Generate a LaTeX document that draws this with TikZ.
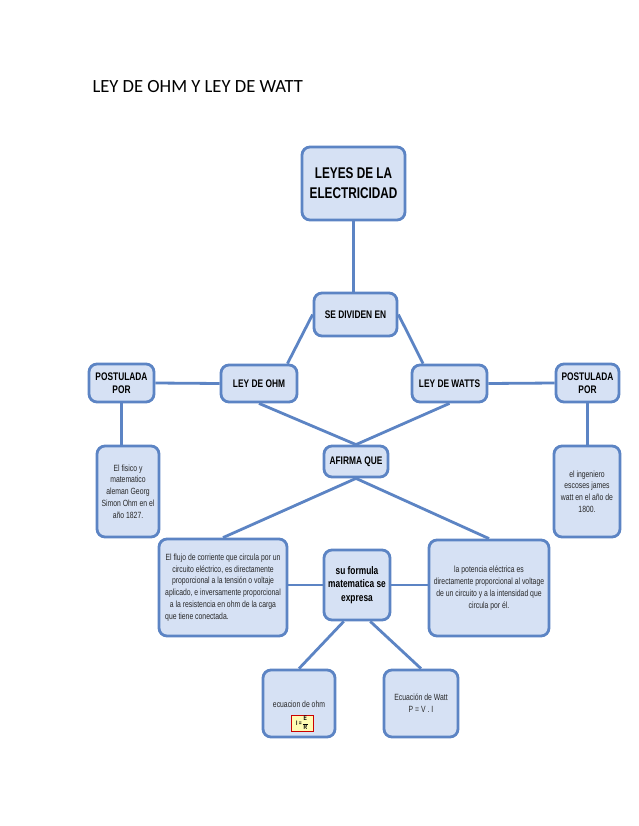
\documentclass[tikz,border=0pt]{standalone}
\usepackage{fontspec}
\setmainfont{Carlito}
\newfontfamily\nar[FakeStretch=0.76]{Liberation Sans}
\usetikzlibrary{backgrounds}
\definecolor{bfill}{RGB}{214,225,244}
\definecolor{bline}{RGB}{92,132,196}
\definecolor{btext}{RGB}{40,40,40}
\begin{document}
\begin{tikzpicture}[x=1pt,y=-1pt,
  box/.style={draw=bline, fill=bfill, line width=2.8pt, rounded corners=8pt, inner sep=0pt, align=center,
    font=\nar\bfseries\fontsize{11}{13}\selectfont},
  bigbox/.style={box, font=\nar\bfseries\fontsize{15.5}{20}\selectfont},
  txt/.style={box, font=\nar\fontsize{9}{11.8}\selectfont, text=btext},
  conn/.style={draw=bline, line width=2.8pt}]
\useasboundingbox (0,0) rectangle (638,826);
\node[anchor=base west, font=\fontsize{18.6}{22}\selectfont] (title) at (89,93) {LEY DE OHM Y LEY DE WATT};
\node[bigbox, minimum width=103pt, minimum height=73pt] (leyes) at (353.5,183.5) {LEYES DE LA\\ELECTRICIDAD};
\node[box, minimum width=83pt, minimum height=43pt] (sediv) at (355.5,314.5) {SE DIVIDEN EN};
\node[box, minimum width=76pt, minimum height=37pt] (ohm) at (259,383.5) {LEY DE OHM};
\node[box, minimum width=75pt, minimum height=37pt] (watts) at (449.5,383.5) {LEY DE WATTS};
\node[box, minimum width=65pt, minimum height=38pt] (postl) at (121.5,383) {POSTULADA\\POR};
\node[box, minimum width=63pt, minimum height=38pt] (postr) at (587.5,383) {POSTULADA\\POR};
\node[box, minimum width=64pt, minimum height=31pt] (afirma) at (356,461.5) {AFIRMA QUE};
\node[txt, minimum width=62pt, minimum height=91pt] (fisico) at (128,491.5) {El fisico y\\matematico\\aleman Georg\\Simon Ohm en el\\año 1827.};
\node[txt, minimum width=66pt, minimum height=91pt] (ingen) at (587,491.5) {el ingeniero\\escoses james\\watt en el año de\\1800.};
\node[txt, minimum width=128pt, minimum height=97pt] (flujo) at (223,587.5) {\begin{tabular}{@{}c@{}}El flujo de corriente que circula por un\\circuito eléctrico, es directamente\\proporcional a la tensión o voltaje\\aplicado, e inversamente proporcional\\a la resistencia en ohm de la carga\\\multicolumn{1}{@{}l@{}}{que tiene conectada.}\end{tabular}};
\node[txt, minimum width=120pt, minimum height=96pt] (poten) at (489,588) {la potencia eléctrica es\\directamente proporcional al voltage\\de un circuito y a la intensidad que\\circula por él.};
\node[box, minimum width=66pt, minimum height=70pt, font=\nar\bfseries\fontsize{11}{13.5}\selectfont] (formula) at (357,585) {su formula\\matematica se\\expresa};
\node[txt, minimum width=72pt, minimum height=67pt] (eohm) at (299,703.5) {};
\node[anchor=base, font=\nar\fontsize{9}{11}\selectfont, text=btext] (eohmtxt) at (299,707) {ecuacion de ohm};
\node[draw=red!80!black, fill=yellow!30, line width=0.9pt, inner sep=0pt, minimum width=22pt, minimum height=15pt,
  font=\nar\bfseries\fontsize{6.5}{6.5}\selectfont] (feq) at (302,723.5)
  {I =\,\begin{tabular}{@{}c@{}}E\\[-1.8pt]\rule{5pt}{0.5pt}\\[-1.8pt]R\end{tabular}};
\node[txt, minimum width=74pt, minimum height=67pt] (ewatt) at (421,703.5) {Ecuación de Watt\\P = V . I};
\begin{scope}[on background layer]
\fill[white] (0,0) rectangle (638,826);
\draw[conn] (leyes.south) -- (leyes.south |- sediv.north);
\draw[conn] (sediv.west) -- (ohm.35);
\draw[conn] (sediv.east) -- (watts.143);
\draw[conn] (ohm.west) -- (postl.east);
\draw[conn] (watts.east) -- (postr.west);
\draw[conn] (postl.south) -- (postl.south |- fisico.north);
\draw[conn] (postr.south) -- (postr.south |- ingen.north);
\draw[conn] (ohm.south) -- (afirma.north);
\draw[conn] (watts.south) -- (afirma.north);
\draw[conn] (afirma.south) -- (flujo.north);
\draw[conn] (afirma.south) -- (poten.north);
\draw[conn] (formula.west) -- (formula.west -| flujo.east);
\draw[conn] (formula.east) -- (formula.east -| poten.west);
\draw[conn] (formula.250) -- (eohm.north);
\draw[conn] (formula.290) -- (ewatt.north);
\end{scope}
\end{tikzpicture}
\end{document}
